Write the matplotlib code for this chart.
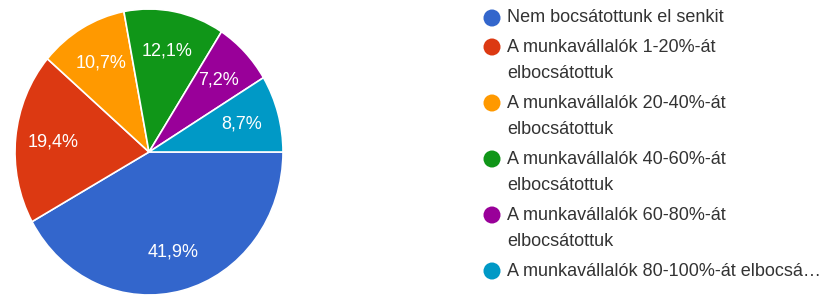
import matplotlib
matplotlib.use("Agg")
import matplotlib.pyplot as plt
import numpy as np

categories = [
    "Nem bocsátottunk el senkit",
    "A munkavállalók 1-20%-át\nelbocsátottuk",
    "A munkavállalók 20-40%-át\nelbocsátottuk",
    "A munkavállalók 40-60%-át\nelbocsátottuk",
    "A munkavállalók 60-80%-át\nelbocsátottuk",
    "A munkavállalók 80-100%-át elbocsá…",
]
values = [41.9, 19.4, 10.7, 12.1, 7.2, 8.7]
pct_labels = ["41,9%", "19,4%", "10,7%", "12,1%", "7,2%", "8,7%"]
colors = ["#3366CC", "#DC3912", "#FF9900", "#109618", "#990099", "#0099C6"]

plt.rcParams['font.family'] = ['Liberation Sans', 'DejaVu Sans']

W, H = 829, 296
fig = plt.figure(figsize=(W / 100, H / 100), dpi=100)

# Pie axes (pixel box: left 15, right 283, top 9, bottom 295)
ax = fig.add_axes([15 / W, 1 / H, 268 / W, 286 / H])
wedges, texts = ax.pie(values, colors=colors, startangle=0, counterclock=False,
                       wedgeprops=dict(edgecolor="white", linewidth=1.2))
ax.set_aspect("auto")
ax.set_xlim(-1, 1)
ax.set_ylim(-1, 1)
for w, lab in zip(wedges, pct_labels):
    mid = np.deg2rad((w.theta1 + w.theta2) / 2)
    ax.text(0.72 * np.cos(mid), 0.72 * np.sin(mid), lab, color="white",
            ha="center", va="center", fontsize=13)

# Legend drawn manually in pixel coordinates
lax = fig.add_axes([0, 0, 1, 1])
lax.set_xlim(0, W)
lax.set_ylim(H, 0)
lax.axis("off")
line_h = 27
y = 18
for cat, col in zip(categories, colors):
    lax.scatter([492], [y], s=150, color=col, edgecolors="none")
    for k, line in enumerate(cat.split("\n")):
        lax.text(507, y + k * line_h, line, color="#333333", fontsize=13,
                 va="center", ha="left")
    nlines = cat.count("\n") + 1
    y += nlines * line_h + 2

fig.savefig("out.png", dpi=100)
